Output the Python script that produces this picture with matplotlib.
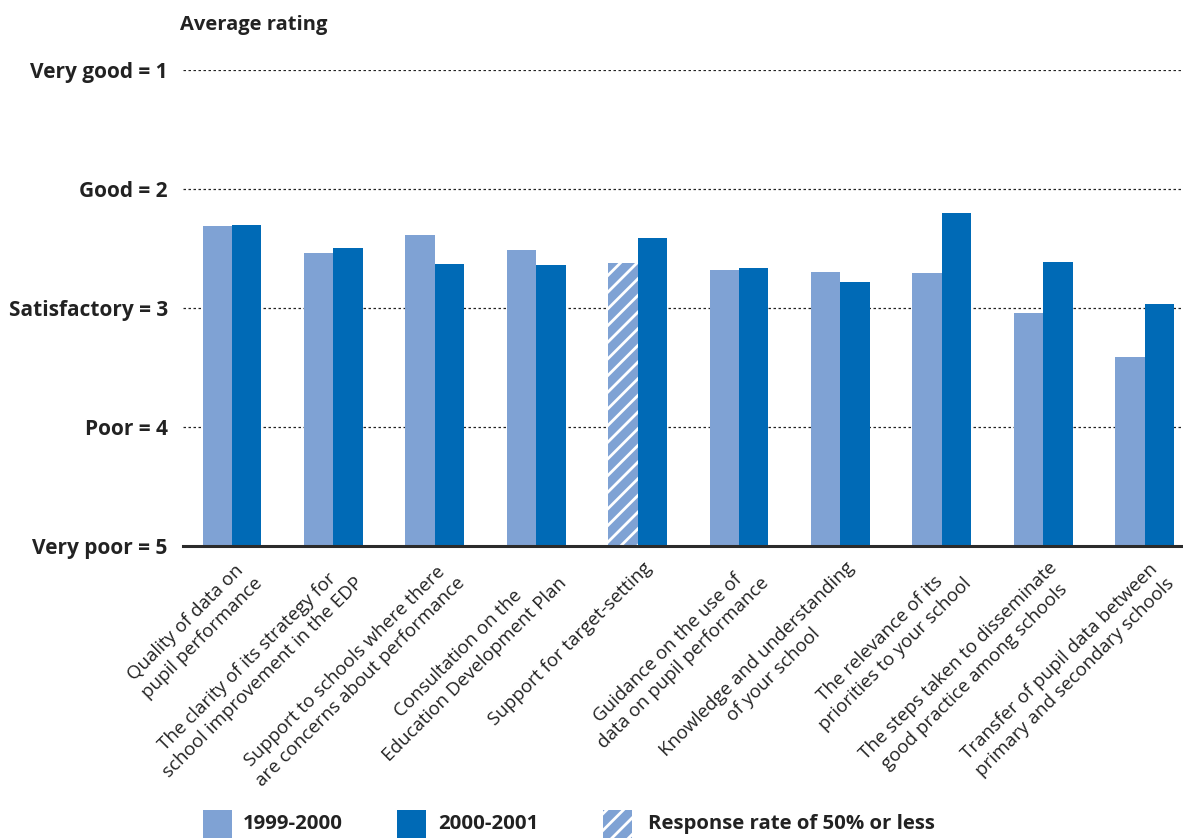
import numpy as np
import matplotlib
matplotlib.use('Agg')
import matplotlib.pyplot as plt
from matplotlib.patches import Rectangle

plt.rcParams['font.family'] = ['Open Sans', 'DejaVu Sans']
plt.rcParams['hatch.color'] = 'white'
plt.rcParams['hatch.linewidth'] = 2.0

# Data
categories = [
    'Quality of data on\npupil performance',
    'The clarity of its strategy for\nschool improvement in the EDP',
    'Support to schools where there\nare concerns about performance',
    'Consultation on the\nEducation Development Plan',
    'Support for target-setting',
    'Guidance on the use of\ndata on pupil performance',
    'Knowledge and understanding\nof your school',
    'The relevance of its\npriorities to your school',
    'The steps taken to disseminate\ngood practice among schools',
    'Transfer of pupil data between\nprimary and secondary schools',
]
rating_1999 = [2.31, 2.535, 2.385, 2.51, 2.62, 2.68, 2.70, 2.71, 3.04, 3.41]
rating_2000 = [2.30, 2.50, 2.63, 2.635, 2.41, 2.66, 2.78, 2.20, 2.61, 2.97]
low_response = [False, False, False, False, True, False, False, False, False, False]
ytick_vals = [1, 2, 3, 4, 5]
ytick_labels = ['Very good = 1', 'Good = 2', 'Satisfactory = 3', 'Poor = 4', 'Very poor = 5']

light = '#7FA2D4'
dark = '#006AB6'
ink = '#222222'

W, H = 1183, 838
fig = plt.figure(figsize=(W / 100, H / 100), dpi=100, facecolor='white')
ax = fig.add_axes([183 / W, 1 - 546 / H, 1000 / W, (546 - 70) / H])

x = np.arange(len(categories))
bw = 0.29
for i in x:
    ax.bar(i - bw / 2, rating_1999[i] - 5, bottom=5, width=bw, color=light,
           hatch='//' if low_response[i] else None, linewidth=0, zorder=3)
    ax.bar(i + bw / 2, rating_2000[i] - 5, bottom=5, width=bw, color=dark,
           linewidth=0, zorder=3)

step = 101.4
ax.set_xlim(-49 / step, -49 / step + 1000 / step)
ax.set_ylim(5, 1)

for v in ytick_vals[:-1]:
    ax.axhline(v, color=ink, linestyle=(0, (2, 2)), linewidth=0.9, zorder=1)
ax.axhline(5, color='#2b2b2b', linewidth=2.2, zorder=4, clip_on=False)

for s in ax.spines.values():
    s.set_visible(False)

ax.set_yticks(ytick_vals)
ax.set_yticklabels(ytick_labels, fontsize=15, fontweight='bold', color=ink)
ax.tick_params(axis='y', length=0, pad=11)

ax.set_xticks(x + 0.05)
ax.set_xticklabels(categories, rotation=45, ha='right', va='top',
                   rotation_mode='anchor', fontsize=13.5, color=ink,
                   multialignment='center', linespacing=1.3)
ax.tick_params(axis='x', length=0, pad=9)

fig.text(180 / W, 1 - 25 / H, 'Average rating', fontsize=14.5, fontweight='bold',
         color=ink, ha='left', va='center')

# Legend
legend_items = [
    (203, light, None, '1999-2000', 243),
    (397, dark, None, '2000-2001', 438),
    (603, light, '//', 'Response rate of 50% or less', 648),
]
for px, col, hatch, label, tx in legend_items:
    fig.add_artist(Rectangle((px / W, 0), 29 / W, 28 / H, transform=fig.transFigure,
                             facecolor=col, hatch=hatch, linewidth=0))
    fig.text(tx / W, 1 - 824 / H, label, fontsize=14.7, fontweight='bold',
             color=ink, ha='left', va='center')

fig.savefig('out.png', dpi=100, facecolor='white')
